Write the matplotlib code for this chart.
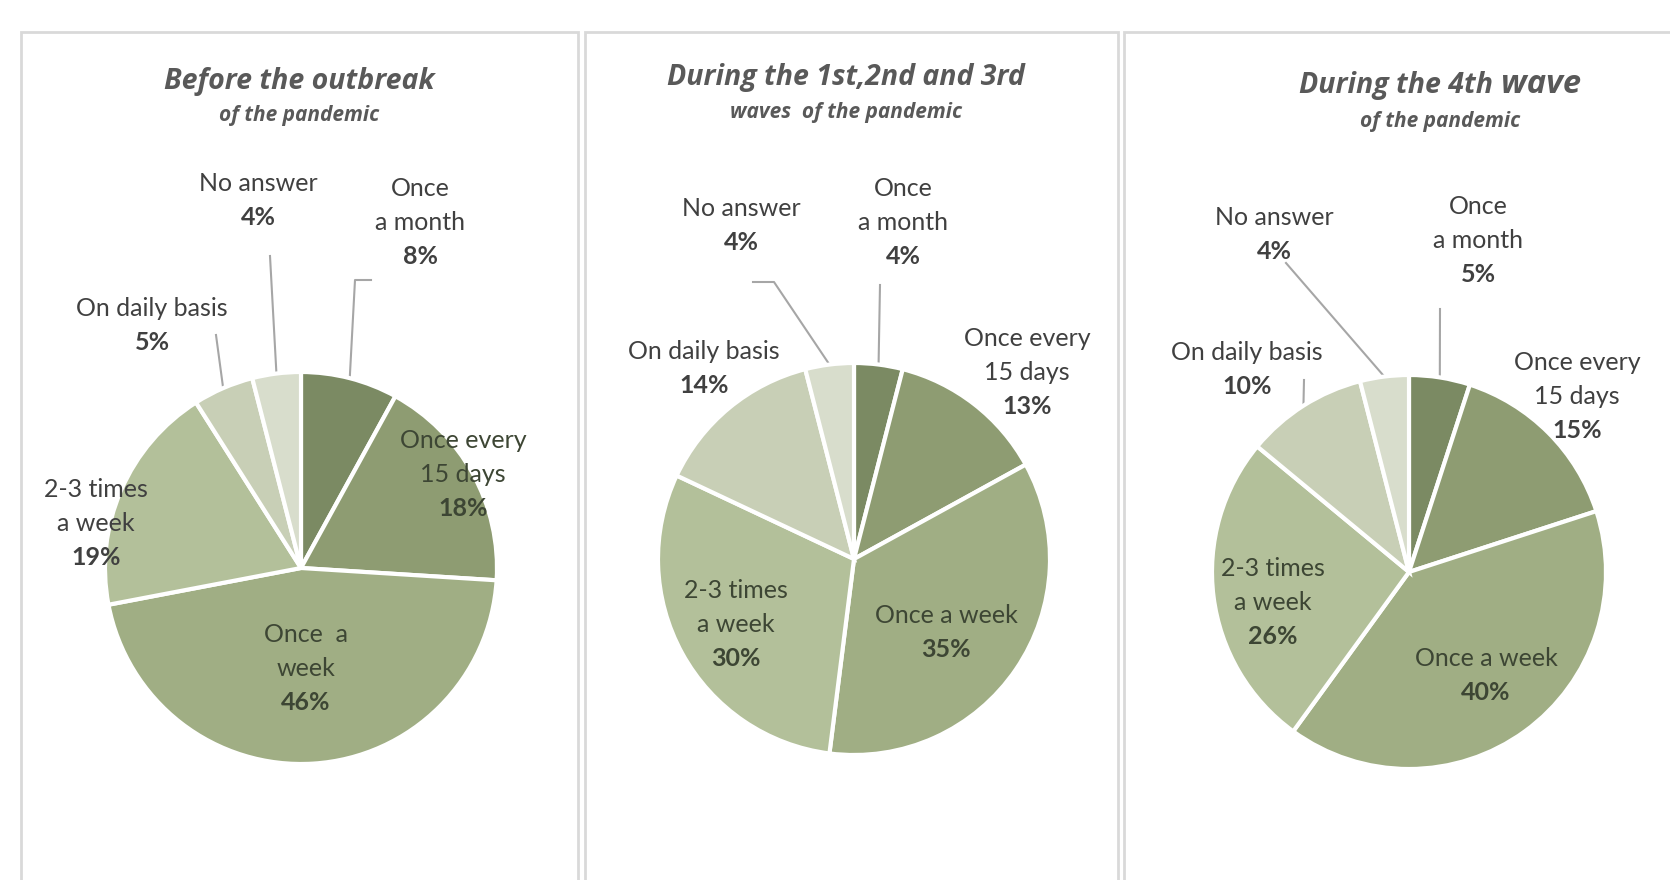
import numpy as np
import matplotlib.pyplot as plt
from matplotlib.patches import Rectangle

W, H = 1670, 880

# categories, clockwise from 12 o'clock
categories = ["Once\na month", "Once every\n15 days", "Once a week",
              "2-3 times\na week", "On daily basis", "No answer"]
before = [8, 18, 46, 19, 5, 4]
waves_123 = [4, 13, 35, 30, 14, 4]
wave_4 = [5, 15, 40, 26, 10, 4]

titles = ["Before the outbreak", "During the 1st,2nd and 3rd", "During the 4th wave"]
subtitles = ["of the pandemic", "waves  of the pandemic", "of the pandemic"]

colors = ["#7b8a63", "#8e9c72", "#a0ae84", "#b3c09a", "#c8cfb6", "#d8ddcc"]

plt.rcParams['font.family'] = ['Lato', 'DejaVu Sans']

fig = plt.figure(figsize=(W / 100, H / 100), dpi=100)
ax = fig.add_axes([0, 0, 1, 1])
ax.set_xlim(0, W)
ax.set_ylim(0, H)


def Y(y):
    return H - y


# panel frames
for x0, x1 in [(21, 578), (585, 1118), (1124, 1720)]:
    ax.add_patch(Rectangle((x0, Y(920)), x1 - x0, 920 - 32, fill=False,
                           edgecolor="#d9d9d9", lw=2))

# layout: pie centre, radius, title y, label centres, leader start points
panels = [
    dict(values=before, c=(301, 568), r=196, tx=299, ty=(81, 115),
         names=["Once\na month", "Once every\n15 days", "Once  a\nweek",
                "2-3 times\na week", "On daily basis", "No answer"],
         pos=[(420, 222), (463, 474), (306, 668), (96, 523), (152, 325), (258, 200)],
         inside=[False, True, True, False, False, False],
         leaders={0: [(371, 280), (355, 280)], 4: [(216, 335)], 5: [(270, 256)]}),
    dict(values=waves_123, c=(854, 559), r=196, tx=846, ty=(77, 112),
         names=categories,
         pos=[(903, 222), (1027, 372), (946, 632), (736, 624), (704, 368), (741, 225)],
         inside=[False, False, True, True, False, False],
         leaders={0: [(880, 285)], 5: [(753, 282), (774, 282)]}),
    dict(values=wave_4, c=(1409, 572), r=197, tx=1440, ty=(85, 121),
         names=categories,
         pos=[(1478, 240), (1577, 396), (1486, 675), (1273, 602), (1247, 369), (1274, 234)],
         inside=[False, False, True, True, False, False],
         leaders={0: [(1440, 309)], 4: [(1304, 380)], 5: [(1286, 263)]}),
]

title_kw = dict(fontweight="bold", fontstyle="italic", color="#595959",
                family=["Open Sans", "DejaVu Sans"], va="center")
renderer = fig.canvas.get_renderer()

line_h = 34
for i, p in enumerate(panels):
    cx, cy = p["c"]
    wedges, _ = ax.pie(p["values"], colors=colors, startangle=90, counterclock=False,
                       center=(cx, Y(cy)), radius=p["r"],
                       wedgeprops=dict(edgecolor="white", linewidth=3))

    # labels
    for k, (name, v) in enumerate(zip(p["names"], p["values"])):
        lines = name.split("\n") + [f"{v}%"]
        lx, ly = p["pos"][k]
        n = len(lines)
        col = "#3d4634" if p["inside"][k] else "#404040"
        for j, s in enumerate(lines):
            yy = ly + (j - (n - 1) / 2) * line_h
            ax.text(lx, Y(yy), s, ha="center", va="center", fontsize=18,
                    color=col, fontweight="bold" if j == n - 1 else "normal")

    # leader lines
    for k, pts in p["leaders"].items():
        w = wedges[k]
        mid = np.deg2rad((w.theta1 + w.theta2) / 2)
        ex, ey = cx + p["r"] * np.cos(mid), Y(cy) + p["r"] * np.sin(mid)
        xs = [q[0] for q in pts] + [ex]
        ys = [Y(q[1]) for q in pts] + [ey]
        ax.plot(xs, ys, color="#a6a6a6", lw=1.5, zorder=0.5)

    # titles
    if i == 2:
        # "wave" is set a little larger in the original
        head, tail = titles[i].rsplit(" ", 1)
        t1 = ax.text(0, Y(p["ty"][0]), head + " ", ha="left", fontsize=20.5, **title_kw)
        t2 = ax.text(0, Y(p["ty"][0]) + 1, tail, ha="left", fontsize=23.5, **title_kw)
        w1 = t1.get_window_extent(renderer).width
        w2 = t2.get_window_extent(renderer).width
        x0 = p["tx"] - (w1 + w2) / 2
        t1.set_x(x0)
        t2.set_x(x0 + w1)
    else:
        ax.text(p["tx"], Y(p["ty"][0]), titles[i], ha="center", fontsize=20.5, **title_kw)
    ax.text(p["tx"], Y(p["ty"][1]), subtitles[i], ha="center", fontsize=15, **title_kw)

ax.set_xlim(0, W)
ax.set_ylim(0, H)
ax.set_aspect("auto")
ax.axis("off")

fig.savefig("out.png", dpi=100, facecolor="white")
